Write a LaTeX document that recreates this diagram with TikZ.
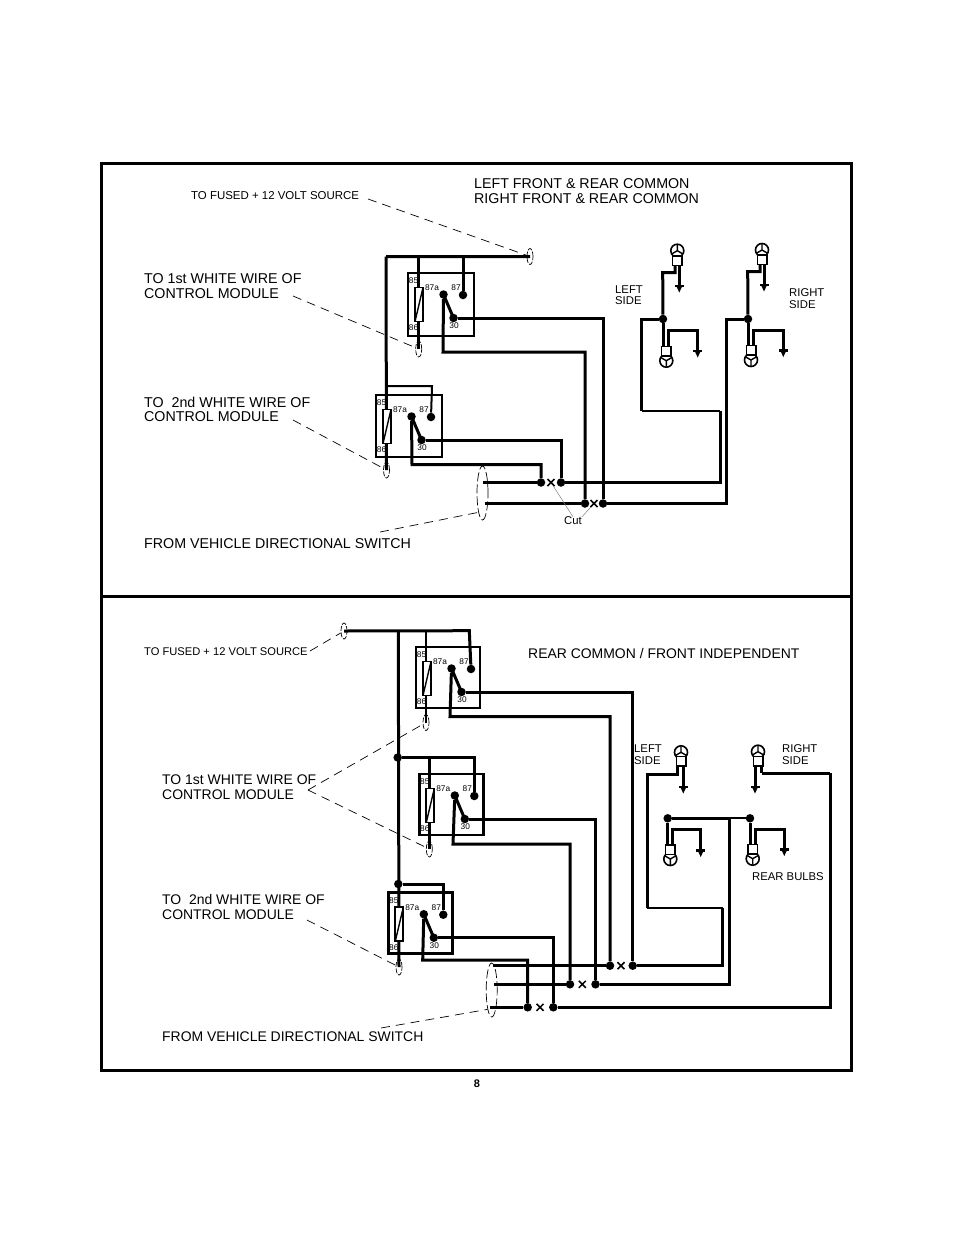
\documentclass[tikz,border=0pt]{standalone}
\usepackage{fontspec}
\setmainfont{Liberation Sans}
\usetikzlibrary{shapes.geometric,shapes.misc}
\tikzset{
  panel/.style={line width=3pt},
  wire/.style={line width=3pt},
  thinwire/.style={line width=2pt},
  leader/.style={line width=.7pt,dash pattern=on 9pt off 6pt},
  cutline/.style={line width=.5pt,gray},
  relaybox/.style={draw,line width=2.8pt,anchor=north west,outer sep=0pt,inner sep=0pt},
  coilbox/.style={draw,fill=white,line width=1.8pt,anchor=north west,outer sep=0pt,minimum width=8pt,minimum height=34pt,inner sep=0pt},
  jdot/.style={circle,fill=black,inner sep=0pt,minimum size=8.5pt},
  tdot/.style={circle,fill=black,inner sep=0pt,minimum size=8.5pt},
  endmark/.style={ellipse,draw,line width=.7pt,dashed,dash pattern=on 5pt off 1.5pt,inner sep=0pt,minimum width=6pt,minimum height=16pt},
  bigmark/.style={ellipse,draw,line width=.7pt,dash pattern=on 9pt off 3pt,inner sep=0pt,minimum width=11pt,minimum height=54pt},
  cutmark/.style={cross out,draw,line width=1.5pt,inner sep=0pt,minimum size=5.5pt},
  bulb/.style={circle,draw,fill=white,line width=1.6pt,inner sep=0pt,minimum size=13pt},
  socket/.style={rectangle,draw,fill=white,line width=1.5pt,inner sep=0pt,minimum size=9.5pt},
  big/.style={anchor=west,inner sep=0pt,align=left,font=\fontsize{14.25}{14.5}\selectfont},
  bigb/.style={anchor=west,inner sep=0pt,align=left,font=\fontsize{13.95}{14.5}\selectfont},
  small/.style={anchor=west,inner sep=0pt,align=left,font=\fontsize{11.3}{11.5}\selectfont},
  pin/.style={inner sep=0pt,font=\fontsize{8.3}{8.3}\selectfont}
}
\begin{document}
\begin{tikzpicture}[x=1pt,y=-1pt]
\useasboundingbox (0,0) rectangle (954,1235);
\draw[panel] (101,163) rectangle (851,596);
\draw[panel] (101,596) rectangle (851,1070);
\node[inner sep=0pt,font=\fontsize{11}{11}\selectfont\bfseries] (pageno) at (477,1084) {8};

% relays
\foreach \n/\x/\y/\w/\h in {ra/408/273/66/63,rb/376/395/66/62,rc/416/647/64/61,rd/419.3/774/64/61,re/388.3/892.7/64/61}{
  \node[relaybox,minimum width=\w pt,minimum height=\h pt] (\n) at (\x,\y) {};
  \node[tdot] (\n87) at (\x+55,\y+22) {};
  \node[tdot] (\n87a) at (\x+35.5,\y+21.5) {};
  \node[tdot] (\n30) at (\x+45.5,\y+45) {};
  \draw[wire] (\n87a.center) -- (\n30.center);
}

% end marks of the coil wires
\node[endmark] (ea) at (418.7,349) {};
\node[endmark] (eb) at (386.5,470) {};
\node[endmark] (es) at (530,256.5) {};
\node[endmark] (ec) at (426,722.5) {};
\node[endmark] (ed) at (429.3,849) {};
\node[endmark] (ee) at (399,967) {};
\node[endmark] (et) at (344,631) {};
\node[bigmark] (busa) at (482.5,493) {};
\node[bigmark] (busb) at (491.7,990) {};

% junctions
\foreach \n/\x/\y in {ja/541/482.5,jb/561/482.5,jc/585/503.5,jd/603/503.5,
    je/663/319,jf/748/319,jg/397.7/757.5,jh/398.3/884,
    ji/610/965.7,jj/632.7/965.7,jk/570/984.3,jl/595.5/984.3,jm/527.7/1007.3,jn/553.3/1007.3,
    jo/667.7/818.3,jp/750/818.3}{
  \node[jdot] (\n) at (\x,\y) {};
}

% upper panel wiring
\coordinate (sa) at (386,256.7);
\coordinate (sb) at (418.7,256.7);
\coordinate (sc) at (463,256.7);
\coordinate (fb) at (432,386);
\coordinate (fc) at (386.5,386);
\draw[wire] (sa) -- (es.center);
\draw[wire] (sa) -- (eb.center);
\draw[wire] (sb) -- (ea.center);
\draw[wire] (sc) -- (ra87);
\draw[thinwire] (fc) -- (fb) -- (rb87);
\coordinate (ca) at (443,352);
\coordinate (cb) at (412,464.5);
\draw[wire] (ra87a) -- (ca) -| (jc);
\draw[wire] (ra30) -| (jd);
\draw[wire] (rb87a) -- (cb) -| (ja);
\draw[wire] (rb30) -| (jb);
\coordinate (busastart) at (483,482.5);
\coordinate (busbstart) at (485,503.5);
\coordinate (cc) at (720,411);
\coordinate (cd) at (641.7,411);
\coordinate (ce) at (726,503.5);
\coordinate (cf) at (726,319);
\draw[wire] (busastart) -- (ja);
\draw[wire] (jb) -| (cc);
\draw[thinwire] (cc) -- (cd);
\draw[wire] (cd) |- (je);
\draw[wire] (busbstart) -- (jc);
\draw[wire] (jd) -- (ce) -- (cf) -- (jf);
\node[cutmark] (xa) at (551,482.5) {};
\node[cutmark] (xb) at (594,503.5) {};

% lower panel wiring
\coordinate (ta) at (398.3,630.7);
\coordinate (tb) at (426,630.7);
\coordinate (tc) at (469.3,630.7);
\draw[wire] (et.center) -- (tc) -- (rc87);
\draw[wire] (ta) -- (ee.center);
\draw[thinwire] (tb) -- (ec.center);
\coordinate (td) at (429.3,757.5);
\draw[wire] (jg) -| (rd87);
\draw[wire] (td) -- (ed.center);
\draw[wire] (jh) -| (re87);
\coordinate (ua) at (450,716.7);
\coordinate (ub) at (453,844);
\coordinate (uc) at (422.7,960);
\draw[wire] (rc87a) -- (ua) -| (ji);
\draw[wire] (rc30) -| (jj);
\draw[wire] (rd87a) -- (ub) -| (jk);
\draw[wire] (rd30) -| (jl);
\draw[wire] (re87a) -- (uc) -| (jm);
\draw[wire] (re30) -| (jn);
\coordinate (va) at (492.7,965.7);
\coordinate (vb) at (494,984.3);
\coordinate (vc) at (490,1007.3);
\coordinate (ve) at (722.7,908.3);
\coordinate (vf) at (647.3,908.3);
\coordinate (vg) at (729,818.3);
\coordinate (vh) at (830,773.3);
\coordinate (vi) at (761.7,773.3);
\draw[wire] (va) -- (ji);
\draw[wire] (jj) -| (ve);
\draw[thinwire] (ve) -- (vf);
\draw[wire] (vb) -- (jk);
\draw[wire] (jl) -| (vg);
\draw[wire] (vc) -- (jm);
\draw[wire] (jn) -| (vh);
\draw[wire] (vh) -- (vi);
\draw[wire] (jo) -- (vg);
\draw[thinwire] (vg) -- (jp);
\node[cutmark] (xc) at (621,965.7) {};
\node[cutmark] (xd) at (582.3,984.3) {};
\node[cutmark] (xe) at (540,1007.3) {};

% coils and pin numbers
\foreach \n/\x/\y in {ra/408/273,rb/376/395,rc/416/647,rd/419.3/774,re/388.3/892.7}{
  \node[coilbox] (\n coil) at (\x+7,\y+14.5) {};
  \draw[line width=1.4pt] (\n coil.south west) -- (\n coil.north east);
  \node[pin] (\n p85) at (\x+5.5,\y+8) {85};
  \node[pin] (\n p86) at (\x+5.5,\y+55) {86};
  \node[pin] (\n pa) at (\x+24,\y+15) {87a};
  \node[pin] (\n pb) at (\x+48,\y+15) {87};
  \node[pin] (\n pc) at (\x+46,\y+53) {30};
}

% grounds
\foreach \n/\x/\y in {ga/679.3/286,gb/697.7/351,gc/764/285,gd/783.3/350.5,
    ge/683.3/787,gf/755/787,gg/700.7/850.5,gh/784.3/849.5}{
  \coordinate (\n) at (\x,\y);
  \fill (\n)+(-4.5,-1.4) rectangle +(4.5,1.4);
  \fill (\n)+(-3,0) -- +(3,0) -- +(0,6.5) -- cycle;
}
\draw[wire] (ga) -- ++(0,-21);
\draw[wire] (ge) -- ++(0,-21);
\draw[wire] (gc) -- ++(0,-21);
\draw[wire] (gf) -- ++(0,-21);

% bulbs, \a points to the foot of the spokes
\foreach \n/\x/\y/\a/\sx/\sy in {ba/677.3/250.7/90/677.3/260.5,bb/666.3/360.7/270/666.3/351,
    bc/762/250/90/762/259.7,bd/751/360/270/751/350.2,
    be/681/752.3/90/681/761.3,bf/758/751.7/90/758/761,
    bg/670.3/859/270/670.3/849.5,bh/752.7/858.7/270/752.7/849.2}{
  \node[bulb] (\n) at (\x,\y) {};
  \draw[line width=1.4pt] (\n.center) -- +(\a:6pt) (\n.center) -- +(\a+120:6pt) (\n.center) -- +(\a+240:6pt);
  \node[socket] (\n s) at (\sx,\sy) {};
}

% bulb wiring
\coordinate (ka) at (662.7,272.7);
\coordinate (kb) at (675,272.7);
\draw[wire] (je) -- (ka) -- (kb) -- (bas.south -| kb);
\coordinate (kc) at (668.3,330.7);
\coordinate (kd) at (697.7,330.7);
\draw[wire] (je) -- (je |- bbs.north);
\draw[wire] (bbs.north -| kc) -- (kc) -- (kd) -- (gb);
\coordinate (ke) at (747.7,271.7);
\coordinate (kf) at (760,271.7);
\draw[wire] (jf) -- (ke) -- (kf) -- (bcs.south -| kf);
\coordinate (kg) at (753.3,330.7);
\coordinate (kh) at (783.3,330.7);
\draw[wire] (jf) -- (jf |- bds.north);
\draw[wire] (bds.north -| kg) -- (kg) -- (kh) -- (gd);
\coordinate (la) at (677.3,774);
\draw[wire] (vf) |- (la) -- (bes.south -| la);
\draw[wire] (vi) -- (bfs.south -| vi);
\coordinate (lc) at (672.3,829.3);
\coordinate (ld) at (700.7,829.3);
\draw[wire] (jo) -- (jo |- bgs.north);
\draw[wire] (bgs.north -| lc) -- (lc) -- (ld) -- (gg);
\coordinate (le) at (755,829.3);
\coordinate (lf) at (784.3,829.3);
\draw[wire] (jp) -- (jp |- bhs.north);
\draw[wire] (bhs.north -| le) -- (le) -- (lf) -- (gh);

% upper panel texts
\node[small,font=\fontsize{11.45}{11.5}\selectfont] (tfused) at (191,196) {TO FUSED + 12 VOLT SOURCE};
\node[big] (thead) at (474,191.3) {LEFT FRONT \& REAR COMMON\\RIGHT FRONT \& REAR COMMON};
\node[big] (twhitea) at (144,286) {TO 1st WHITE WIRE OF\\CONTROL MODULE};
\node[big] (twhiteb) at (144,409.5) {TO\ \ 2nd WHITE WIRE OF\\CONTROL MODULE};
\node[big] (tswitch) at (144,543.5) {FROM VEHICLE DIRECTIONAL SWITCH};
\node[small] (tleft) at (615,295) {LEFT\\SIDE};
\node[small] (tright) at (789,298.5) {RIGHT\\SIDE};
\node[small] (tcut) at (564,521) {Cut};

% lower panel texts
\node[small,font=\fontsize{11.15}{11.5}\selectfont] (tfusedb) at (144,652) {TO FUSED + 12 VOLT SOURCE};
\node[bigb] (theadb) at (528,654) {REAR COMMON / FRONT INDEPENDENT};
\node[small] (tleftb) at (634,754.5) {LEFT\\SIDE};
\node[small] (trightb) at (782,754.5) {RIGHT\\SIDE};
\node[small] (trear) at (752,877) {REAR BULBS};
\node[bigb] (twhitec) at (162,787) {TO 1st WHITE WIRE OF\\CONTROL MODULE};
\node[bigb] (twhited) at (162,907) {TO\ \ 2nd WHITE WIRE OF\\CONTROL MODULE};
\node[bigb] (tswitchb) at (162,1036.5) {FROM VEHICLE DIRECTIONAL SWITCH};

% dashed leaders
\coordinate (da) at (368,199);
\coordinate (db) at (293,296);
\coordinate (dc) at (293,420);
\coordinate (dd) at (380,532);
\coordinate (de) at (310,651);
\coordinate (df) at (308,790);
\coordinate (dg) at (307,920);
\coordinate (dh) at (381,1028);
\draw[leader] (da) -- (es);
\draw[leader] (db) -- (ea);
\draw[leader] (dc) -- (eb);
\draw[leader] (dd) -- (busa.south west);
\draw[leader] (de) -- (et);
\draw[leader] (df) -- (ec);
\draw[leader] (df) -- (ed);
\draw[leader] (dg) -- (ee);
\draw[leader] (dh) -- (busb.south west);
\draw[cutline] (xa) -- (tcut.north);
\draw[cutline] (xb) -- (tcut.north east);
\end{tikzpicture}
\end{document}
